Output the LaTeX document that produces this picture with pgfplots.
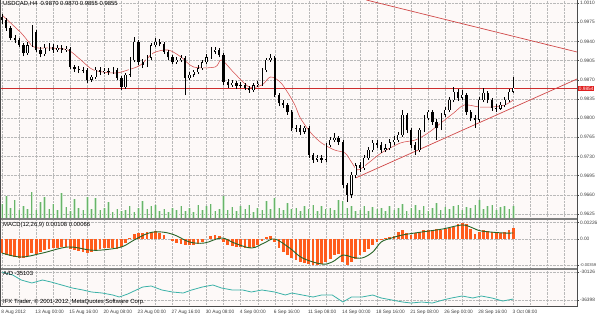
\documentclass[border=0pt]{standalone}
\usepackage{fontspec}
\setmainfont{Liberation Sans}
\usepackage{pgfplots}
\pgfplotsset{compat=1.18}
\usepackage{pgfplotstable}
\definecolor{bg}{RGB}{253,249,248}
\definecolor{gridc}{RGB}{185,185,185}
\definecolor{macol}{RGB}{214,80,80}
\definecolor{trcol}{RGB}{208,72,72}
\definecolor{hcol}{RGB}{205,45,45}
\definecolor{volc}{RGB}{105,180,105}
\definecolor{voll}{RGB}{205,232,205}
\definecolor{histc}{RGB}{255,92,28}
\definecolor{sigc}{RGB}{40,100,40}
\definecolor{adc}{RGB}{60,178,168}
\definecolor{sepc}{RGB}{128,128,128}
\definecolor{tagred}{RGB}{225,30,30}
\newcommand{\lbl}{\fontsize{4.8}{5.5}\selectfont}
\newcommand{\ttl}{\fontsize{5.9}{6.5}\selectfont}

\pgfplotstableread{
i o h l c v m
0 0.9984 0.9990 0.9972 0.9979 1400 -0.00193
2 0.9979 0.9983 0.9959 0.9964 2200 -0.00220
4 0.9964 0.9968 0.9942 0.9946 1000 -0.00234
6 0.9946 0.9952 0.9937 0.9942 1800 -0.00248
8 0.9942 0.9946 0.9930 0.9933 800 -0.00261
10 0.9933 0.9937 0.9913 0.9919 1200 -0.00261
12 0.9919 0.9939 0.9915 0.9933 900 -0.00234
14 0.9933 0.9970 0.9930 0.9957 2600 -0.00193
16 0.9957 0.9961 0.9921 0.9924 800 -0.00206
18 0.9924 0.9930 0.9911 0.9917 1600 -0.00179
20 0.9917 0.9935 0.9913 0.9928 2100 -0.00151
22 0.9928 0.9937 0.9922 0.9930 900 -0.00138
24 0.9930 0.9935 0.9919 0.9924 1400 -0.00124
26 0.9924 0.9933 0.9921 0.9928 800 -0.00124
28 0.9928 0.9933 0.9919 0.9924 2500 -0.00110
30 0.9924 0.9931 0.9921 0.9926 1100 -0.00110
32 0.9926 0.9930 0.9889 0.9893 700 -0.00138
34 0.9893 0.9897 0.9884 0.9889 1900 -0.00151
36 0.9889 0.9895 0.9882 0.9888 1000 -0.00165
38 0.9888 0.9893 0.9882 0.9887 800 -0.00179
40 0.9887 0.9891 0.9864 0.9870 2100 -0.00193
42 0.9870 0.9879 0.9866 0.9875 900 -0.00179
44 0.9875 0.9893 0.9871 0.9888 2000 -0.00151
46 0.9888 0.9893 0.9879 0.9884 800 -0.00138
48 0.9884 0.9891 0.9880 0.9886 1000 -0.00124
50 0.9886 0.9891 0.9879 0.9884 1600 -0.00124
52 0.9884 0.9893 0.9880 0.9888 600 -0.00124
54 0.9888 0.9891 0.9870 0.9873 900 -0.00138
56 0.9873 0.9877 0.9851 0.9857 700 -0.00110
58 0.9857 0.9882 0.9853 0.9879 800 -0.00055
60 0.9879 0.9911 0.9875 0.9906 1200 0.00014
62 0.9906 0.9948 0.9902 0.9939 600 0.00069
64 0.9939 0.9942 0.9897 0.9902 1000 0.00083
66 0.9902 0.9908 0.9891 0.9897 1700 0.00083
68 0.9897 0.9915 0.9893 0.9910 900 0.00096
70 0.9910 0.9937 0.9906 0.9933 1200 0.00096
72 0.9933 0.9946 0.9930 0.9939 1300 0.00110
74 0.9939 0.9944 0.9931 0.9935 700 0.00083
76 0.9935 0.9939 0.9917 0.9921 900 0.00055
78 0.9921 0.9924 0.9906 0.9911 600 0.00000
80 0.9911 0.9915 0.9899 0.9902 1000 -0.00028
82 0.9902 0.9911 0.9899 0.9906 800 -0.00055
84 0.9906 0.9915 0.9902 0.9910 1200 -0.00069
86 0.9910 0.9913 0.9842 0.9873 700 -0.00083
88 0.9873 0.9884 0.9870 0.9879 1000 -0.00083
90 0.9879 0.9888 0.9875 0.9884 600 -0.00083
92 0.9884 0.9897 0.9880 0.9891 1300 -0.00069
94 0.9891 0.9906 0.9888 0.9902 800 -0.00041
96 0.9902 0.9917 0.9899 0.9911 1200 0.00000
98 0.9911 0.9930 0.9908 0.9921 1400 0.00041
100 0.9921 0.9930 0.9917 0.9924 700 0.00055
102 0.9924 0.9928 0.9911 0.9915 900 0.00041
104 0.9915 0.9919 0.9860 0.9866 2200 -0.00041
106 0.9866 0.9871 0.9855 0.9860 800 -0.00083
108 0.9860 0.9870 0.9857 0.9864 1100 -0.00096
110 0.9864 0.9868 0.9853 0.9859 700 -0.00110
112 0.9859 0.9866 0.9855 0.9860 1200 -0.00110
114 0.9860 0.9864 0.9851 0.9855 900 -0.00124
116 0.9855 0.9859 0.9846 0.9851 1300 -0.00124
118 0.9851 0.9864 0.9848 0.9860 600 -0.00110
120 0.9860 0.9868 0.9857 0.9862 1000 -0.00083
122 0.9862 0.9891 0.9859 0.9888 800 -0.00028
124 0.9888 0.9910 0.9884 0.9906 1700 0.00028
126 0.9906 0.9917 0.9902 0.9910 900 0.00041
128 0.9910 0.9913 0.9838 0.9842 2000 -0.00041
130 0.9842 0.9846 0.9822 0.9827 1000 -0.00124
132 0.9827 0.9833 0.9818 0.9824 800 -0.00179
134 0.9824 0.9827 0.9806 0.9811 1500 -0.00220
136 0.9811 0.9815 0.9776 0.9782 900 -0.00261
138 0.9782 0.9787 0.9775 0.9781 1000 -0.00289
140 0.9781 0.9787 0.9769 0.9775 700 -0.00316
142 0.9775 0.9786 0.9771 0.9782 1200 -0.00330
144 0.9782 0.9786 0.9727 0.9733 900 -0.00344
146 0.9733 0.9736 0.9718 0.9724 1300 -0.00358
148 0.9724 0.9733 0.9720 0.9727 700 -0.00358
150 0.9727 0.9733 0.9718 0.9724 1200 -0.00344
152 0.9724 0.9755 0.9720 0.9751 900 -0.00316
154 0.9751 0.9765 0.9747 0.9760 1000 -0.00275
156 0.9760 0.9773 0.9756 0.9764 800 -0.00220
158 0.9764 0.9767 0.9751 0.9756 1800 -0.00206
160 0.9756 0.9760 0.9672 0.9678 1700 -0.00316
162 0.9678 0.9682 0.9647 0.9660 1000 -0.00358
164 0.9660 0.9702 0.9654 0.9696 1200 -0.00316
166 0.9696 0.9718 0.9691 0.9714 700 -0.00275
168 0.9714 0.9720 0.9702 0.9709 800 -0.00220
170 0.9709 0.9733 0.9705 0.9727 1200 -0.00179
172 0.9727 0.9747 0.9724 0.9742 700 -0.00138
174 0.9742 0.9760 0.9738 0.9755 1100 -0.00083
176 0.9755 0.9760 0.9745 0.9751 900 -0.00041
178 0.9751 0.9756 0.9736 0.9742 1000 -0.00014
180 0.9742 0.9753 0.9738 0.9745 700 0.00014
182 0.9745 0.9762 0.9742 0.9756 1200 0.00028
184 0.9756 0.9767 0.9751 0.9760 800 0.00041
186 0.9760 0.9775 0.9756 0.9769 1000 0.00096
188 0.9769 0.9815 0.9765 0.9806 1400 0.00124
190 0.9806 0.9809 0.9773 0.9778 700 0.00083
192 0.9778 0.9782 0.9745 0.9751 1000 0.00055
194 0.9751 0.9756 0.9733 0.9742 1300 0.00083
196 0.9742 0.9782 0.9738 0.9778 800 0.00096
198 0.9778 0.9806 0.9775 0.9800 1200 0.00124
200 0.9800 0.9815 0.9797 0.9811 700 0.00124
202 0.9811 0.9815 0.9787 0.9793 1000 0.00124
204 0.9793 0.9798 0.9760 0.9782 1500 0.00138
206 0.9782 0.9809 0.9778 0.9806 800 0.00124
208 0.9806 0.9820 0.9802 0.9815 1100 0.00138
210 0.9815 0.9838 0.9811 0.9833 900 0.00151
212 0.9833 0.9857 0.9829 0.9848 1200 0.00165
214 0.9848 0.9853 0.9831 0.9837 1300 0.00206
216 0.9837 0.9851 0.9833 0.9842 800 0.00220
218 0.9842 0.9846 0.9806 0.9811 1100 0.00206
220 0.9811 0.9815 0.9795 0.9800 1000 0.00138
222 0.9800 0.9806 0.9782 0.9797 1300 0.00069
224 0.9797 0.9838 0.9793 0.9833 1800 0.00096
226 0.9833 0.9855 0.9829 0.9846 900 0.00124
228 0.9846 0.9849 0.9827 0.9833 1200 0.00110
230 0.9833 0.9837 0.9813 0.9818 1300 0.00096
232 0.9818 0.9826 0.9811 0.9817 800 0.00083
234 0.9817 0.9829 0.9815 0.9824 1100 0.00083
236 0.9824 0.9838 0.9820 0.9833 1200 0.00096
238 0.9833 0.9853 0.9829 0.9848 900 0.00124
240 0.9848 0.9875 0.9846 0.9855 1200 0.00151
}\data

\pgfplotsset{
  panel/.style={scale only axis, width=576pt, xmin=-0.5, xmax=269.9,
    anchor=north west, axis line style={draw=none},
    xtick={0,8,...,264}, xticklabels={}, xtick style={draw=none},
    xmajorgrids, ymajorgrids,
    grid style={densely dotted, gridc, line width=0.35pt},
    ytick pos=right, yticklabel pos=right,
    ytick style={draw=darkgray, line width=0.4pt}, major tick length=2pt, tick align=outside,
    ticklabel style={font=\lbl, text=black!75},
    yticklabel style={inner sep=0.8pt},
    scaled y ticks=false,
    axis background/.style={fill=bg}},
  candle/.style={draw=none, mark=none, forget plot,
    error bars/y dir=plus, error bars/y explicit, error bars/error mark=none}
}

\begin{document}
\begin{tikzpicture}[x=1pt,y=1pt]
\useasboundingbox (0pt,0pt) rectangle (597pt,-316pt);
\fill[white] (0pt,0pt) rectangle (597pt,-316pt);

% main price panel
\begin{axis}[panel, at={(1pt,0pt)}, height=218pt, ymin=0.96176, ymax=1.00155,
  ytick={0.9625,0.9660,0.9695,0.9730,0.9765,0.9800,0.9835,0.9870,0.9905,0.9940,0.9975,1.0010},
  yticklabels={0.9625,0.9660,0.9695,0.9730,0.9765,0.9800,0.9835,0.9870,0.9905,0.9940,0.9975,1.0010}]
\addplot[hcol, line width=1.1pt] coordinates {(-0.5,0.9854) (269.9,0.9854)};
\addplot[trcol, line width=0.7pt] coordinates {(171,1.00155) (269.9,0.99206)};
\addplot[trcol, line width=0.7pt] coordinates {(166,0.96907) (269.9,0.98713)};
\addplot[macol, line width=0.55pt, smooth, tension=0.5] coordinates {
(0,0.99881) (9,0.99552) (15,0.99297) (23,0.99279) (31,0.99242) (37,0.99060)
(43,0.98877) (53,0.98822) (59,0.98877) (65,0.98968) (71,0.99188) (78,0.99242)
(84,0.99115) (90,0.98932) (100,0.98932) (103,0.99060) (109,0.98822) (116,0.98567)
(122,0.98604) (126,0.98750) (131,0.98640) (137,0.98275) (140,0.98002) (145,0.97728)
(150,0.97545) (156,0.97418) (161,0.97363) (164,0.97199) (167,0.97053) (172,0.97181)
(178,0.97363) (187,0.97545) (194,0.97600) (200,0.97728) (206,0.97910) (212,0.98093)
(217,0.98239) (224,0.98202) (230,0.98202) (236,0.98239) (240,0.98330)};
% wicks
\addplot[candle, error bars/error bar style={draw=black, line width=0.6pt}]
  table[x=i, y=l, y error expr=\thisrow{h}-\thisrow{l}] {\data};
% bear bodies
\addplot[candle, restrict expr to domain={\thisrow{o}-\thisrow{c}}{0:1},
  error bars/error bar style={draw=black, line width=2.3pt}]
  table[x=i, y=c, y error expr=\thisrow{o}-\thisrow{c}] {\data};
% bull bodies
\addplot[candle, restrict expr to domain={\thisrow{c}-\thisrow{o}}{0:1},
  error bars/error bar style={draw=black, line width=2.3pt}]
  table[x=i, y=o, y error expr=\thisrow{c}-\thisrow{o}] {\data};
\addplot[candle, restrict expr to domain={\thisrow{c}-\thisrow{o}}{0.00015:1},
  error bars/error bar style={draw=white, line width=0.9pt}]
  table[x=i, y expr=\thisrow{o}+0.00006, y error expr=\thisrow{c}-\thisrow{o}-0.00012] {\data};
\end{axis}

% volumes (overlay on main panel)
\begin{axis}[scale only axis, width=576pt, height=218pt, at={(1pt,0pt)}, anchor=north west,
  xmin=-0.5, xmax=269.9, ymin=0, ymax=21800, axis lines=none]
\addplot[ycomb, voll, line width=2.6pt, mark=none] table[x=i, y=v] {\data};
\addplot[ycomb, volc, line width=0.8pt, mark=none] table[x=i, y=v] {\data};
\end{axis}

% MACD panel
\begin{axis}[panel, at={(1pt,-220pt)}, height=47pt, ymin=-0.00385, ymax=0.00261,
  ytick={-0.00359,0,0.00226},
  yticklabels={{\fontsize{4.1}{5}\selectfont -0.00359},0.00,0.00226}]
\addplot[ycomb, histc, line width=2.8pt, mark=none] table[x=i, y=m] {\data};
\addplot[sigc, line width=0.9pt, smooth, tension=0.6] coordinates {
(0,-0.00193) (9,-0.00248) (19,-0.00193) (31,-0.00110) (41,-0.00151) (47,-0.00151)
(56,-0.00110) (62,-0.00014) (69,0.00083) (75,0.00096) (81,0.00055) (88,-0.00041)
(95,-0.00055) (103,0.00014) (109,-0.00055) (117,-0.00124) (123,-0.00055) (128,0.00000)
(135,-0.00124) (141,-0.00261) (150,-0.00344) (155,-0.00316) (160,-0.00220) (164,-0.00248)
(169,-0.00261) (174,-0.00179) (178,-0.00041) (183,0.00014) (188,0.00055) (197,0.00096)
(207,0.00138) (216,0.00193) (221,0.00151) (225,0.00110) (235,0.00083) (240,0.00083)};
\end{axis}

% A/D panel
\begin{axis}[panel, at={(1pt,-270pt)}, height=36pt, ymin=-37742, ymax=-29678,
  ytick={-36398,-30126}, yticklabels={-36398,-30126},
  xticklabels={8 Aug 2012,,13 Aug 00:00,,15 Aug 16:00,,20 Aug 08:00,,23 Aug 00:00,,27 Aug 16:00,,30 Aug 08:00,,4 Sep 00:00,,6 Sep 16:00,,11 Sep 08:00,,14 Sep 00:00,,18 Sep 16:00,,21 Sep 08:00,,26 Sep 00:00,,28 Sep 16:00,,3 Oct 08:00,,},
  xticklabel style={anchor=north west, inner sep=0.5pt, xshift=-1.5pt, yshift=-1pt}]
\addplot[adc, line width=0.8pt] coordinates {
(0,-30126) (5,-30798) (9,-31918) (14,-32590) (19,-31918) (23,-32366) (28,-33038)
(33,-33710) (38,-34158) (42,-34606) (47,-34830) (52,-35278) (55,-35726) (59,-35054)
(62,-34382) (66,-33486) (70,-33262) (75,-34158) (80,-34606) (85,-34830) (89,-34158)
(94,-33486) (99,-33038) (103,-33710) (108,-34158) (113,-34158) (117,-34606) (122,-34158)
(128,-34606) (133,-35278) (136,-34830) (141,-35278) (146,-35726) (150,-35278) (155,-35278)
(160,-36846) (164,-35726) (169,-35726) (174,-35278) (178,-35950) (183,-36398) (188,-36846)
(192,-37070) (197,-36846) (202,-37070) (207,-36398) (211,-35950) (216,-35502) (221,-35950)
(225,-35502) (230,-35950) (235,-36622) (240,-36174)};
\end{axis}

% frames and separators
\draw[sepc, line width=2pt] (0pt,-219pt) -- (577pt,-219pt);
\draw[sepc, line width=2pt] (0pt,-268.5pt) -- (577pt,-268.5pt);
\draw[black!70, line width=0.8pt] (0pt,-306.6pt) -- (577.4pt,-306.6pt);
\draw[black!70, line width=0.8pt] (577pt,0pt) -- (577pt,-306.6pt);
\draw[black!70, line width=0.8pt] (0.4pt,0pt) -- (0.4pt,-306.6pt);

% texts
\node[anchor=north west, inner sep=0, font=\ttl] at (3pt,-1.5pt) {USDCAD,H4\ \ 0.9870 0.9870 0.9855 0.9855};
\node[anchor=north west, inner sep=0, font=\ttl] at (3pt,-222pt) {MACD(12,26,9) 0.00108 0.00066};
\node[anchor=north west, inner sep=0, font=\ttl] at (3pt,-271pt) {A/D -35103};
\node[anchor=south west, inner sep=0, font=\ttl] at (3pt,-304.8pt) {IFX Trader, © 2001-2012, MetaQuotes Software Corp.};
\node[anchor=west, fill=tagred, text=white, inner sep=0.7pt, font=\lbl] at (578pt,-88.5pt) {0.9854};
\end{tikzpicture}
\end{document}
